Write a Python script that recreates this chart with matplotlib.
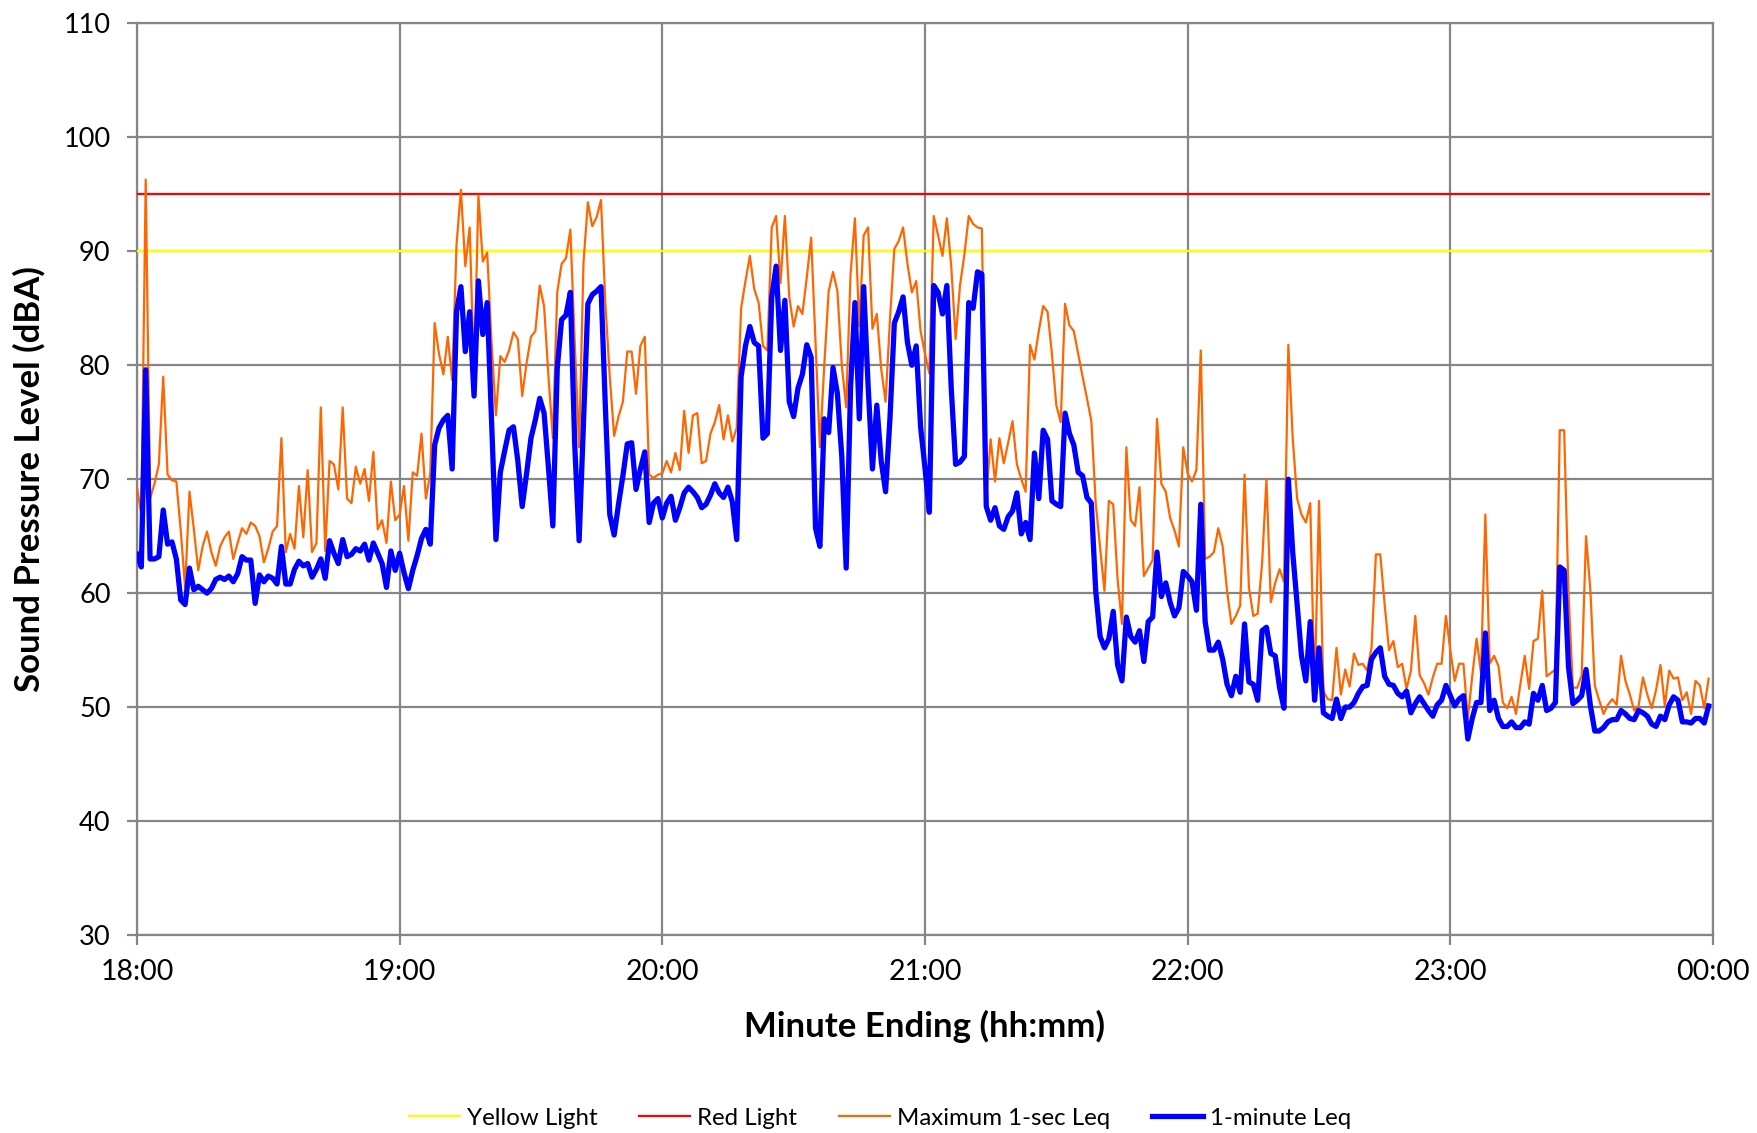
"""Sound pressure level, 18:00-00:00, minute by minute."""
import numpy as np
import matplotlib

matplotlib.use("Agg")
import matplotlib.pyplot as plt  # noqa: E402

plt.rcParams["font.family"] = ["Lato", "DejaVu Sans"]

# thresholds (dBA)
YELLOW_LIGHT = 90
RED_LIGHT = 95

HOUR_LABELS = ["18:00", "19:00", "20:00", "21:00", "22:00", "23:00", "00:00"]

# 1-minute Leq, one value per minute from 18:00
leq_1min = [
    63.4, 62.3, 79.6, 63.0, 63.0, 63.2, 67.3, 64.3, 64.5, 63.0,
    59.4, 59.0, 62.2, 60.3, 60.6, 60.3, 60.0, 60.4, 61.2, 61.4,
    61.2, 61.5, 61.0, 61.7, 63.2, 62.9, 62.9, 59.1, 61.6, 61.0,
    61.5, 61.3, 60.8, 64.1, 60.8, 60.8, 62.1, 62.8, 62.4, 62.6,
    61.4, 62.1, 63.0, 61.3, 64.6, 63.5, 62.6, 64.7, 63.2, 63.4,
    63.9, 63.7, 64.3, 62.9, 64.4, 63.5, 62.6, 60.5, 63.7, 62.0,
    63.5, 61.8, 60.4, 62.0, 63.3, 64.8, 65.6, 64.3, 73.0, 74.5,
    75.2, 75.6, 70.9, 84.7, 86.9, 81.2, 84.7, 77.3, 87.4, 82.7,
    85.5, 75.0, 64.7, 70.6, 72.5, 74.3, 74.6, 71.6, 67.6, 70.5,
    73.6, 75.2, 77.1, 75.8, 71.0, 65.9, 79.7, 84.0, 84.4, 86.4,
    73.0, 64.6, 75.0, 85.4, 86.2, 86.5, 86.9, 76.3, 66.9, 65.1,
    67.8, 70.3, 73.1, 73.2, 69.1, 70.9, 72.4, 66.2, 67.9, 68.3,
    66.6, 67.9, 68.5, 66.4, 67.5, 68.8, 69.3, 68.9, 68.4, 67.5,
    67.8, 68.6, 69.6, 68.8, 68.4, 69.3, 68.0, 64.7, 79.0, 81.7,
    83.4, 82.0, 81.7, 73.6, 74.0, 86.0, 88.7, 81.3, 85.7, 76.8,
    75.5, 78.0, 79.2, 81.8, 80.7, 65.7, 64.1, 75.3, 74.1, 79.8,
    77.5, 72.0, 62.2, 78.0, 85.5, 75.3, 86.9, 78.3, 70.9, 76.5,
    71.6, 68.9, 75.3, 83.7, 84.7, 86.0, 82.0, 80.0, 81.7, 74.6,
    71.0, 67.1, 87.0, 86.4, 84.5, 87.0, 78.0, 71.3, 71.5, 72.0,
    85.5, 85.0, 88.2, 88.0, 67.6, 66.4, 67.5, 65.9, 65.6, 66.7,
    67.2, 68.8, 65.2, 66.2, 64.7, 72.3, 68.3, 74.3, 73.5, 68.1,
    67.8, 67.6, 75.8, 74.0, 73.0, 70.6, 70.3, 68.4, 67.9, 60.2,
    56.2, 55.2, 56.0, 58.4, 53.7, 52.3, 57.9, 56.2, 55.7, 56.7,
    54.0, 57.5, 57.9, 63.6, 59.7, 60.9, 59.2, 58.0, 58.7, 61.9,
    61.5, 61.0, 58.5, 67.8, 57.5, 55.0, 55.0, 55.7, 54.2, 52.0,
    51.0, 52.7, 51.3, 57.3, 52.2, 52.0, 50.6, 56.7, 57.0, 54.7,
    54.5, 51.7, 49.9, 70.0, 63.6, 59.0, 54.5, 52.3, 57.5, 50.6,
    55.2, 49.5, 49.2, 49.0, 50.7, 49.0, 50.0, 50.0, 50.4, 51.2,
    51.8, 51.9, 54.2, 54.8, 55.2, 52.7, 52.0, 51.9, 51.2, 50.9,
    51.4, 49.5, 50.3, 50.9, 50.3, 49.7, 49.2, 50.2, 50.6, 51.9,
    51.0, 50.1, 50.7, 51.0, 47.2, 49.0, 50.4, 50.4, 56.5, 49.7,
    50.6, 49.0, 48.3, 48.3, 48.7, 48.2, 48.2, 48.7, 48.5, 51.2,
    50.6, 51.9, 49.7, 49.9, 50.4, 62.3, 62.0, 53.5, 50.3, 50.6,
    51.0, 53.3, 50.1, 47.9, 47.9, 48.2, 48.7, 48.9, 48.9, 49.7,
    49.4, 49.0, 48.9, 49.7, 49.5, 49.2, 48.5, 48.3, 49.2, 48.9,
    50.2, 50.9, 50.6, 48.7, 48.7, 48.6, 49.0, 49.0, 48.6, 50.1,
]

# maximum 1-sec Leq within each minute
leq_max_1sec = [
    69.3, 66.9, 96.3, 68.3, 69.6, 71.3, 79.0, 70.4, 69.9, 69.8,
    65.5, 60.5, 68.9, 65.6, 62.0, 64.1, 65.4, 63.6, 62.4, 64.1,
    64.9, 65.4, 63.0, 64.4, 65.7, 65.2, 66.2, 65.9, 65.0, 62.7,
    63.9, 65.4, 65.9, 73.6, 63.6, 65.2, 63.9, 69.4, 64.9, 70.8,
    63.6, 64.4, 76.3, 63.7, 71.6, 71.3, 69.1, 76.3, 68.3, 67.9,
    71.1, 69.6, 70.9, 68.1, 72.4, 65.6, 66.4, 64.4, 69.8, 66.4,
    66.9, 69.4, 64.6, 70.6, 70.3, 74.0, 68.3, 70.5, 83.7, 81.0,
    79.2, 82.5, 78.7, 90.6, 95.4, 88.7, 92.1, 79.0, 94.9, 89.1,
    89.9, 82.0, 75.6, 80.8, 80.3, 81.3, 82.9, 82.3, 77.3, 80.2,
    82.5, 83.0, 87.0, 85.2, 79.0, 73.6, 86.4, 88.9, 89.4, 91.9,
    82.0, 72.8, 89.0, 94.3, 92.2, 93.0, 94.5, 85.4, 79.0, 73.8,
    75.5, 76.8, 81.2, 81.2, 77.5, 81.7, 82.5, 70.4, 70.1, 70.4,
    70.5, 71.6, 70.6, 72.3, 70.8, 76.0, 72.3, 75.6, 75.8, 71.4,
    71.6, 74.0, 75.0, 76.5, 73.5, 75.6, 73.3, 74.5, 85.0, 87.4,
    89.6, 86.7, 85.5, 81.7, 81.3, 92.1, 93.1, 87.2, 93.1, 86.0,
    83.4, 85.2, 84.5, 87.7, 91.2, 82.0, 72.8, 80.0, 86.5, 88.2,
    86.5, 80.0, 76.3, 88.0, 92.9, 83.4, 91.4, 92.1, 83.2, 84.5,
    79.7, 76.8, 84.0, 90.2, 90.9, 92.1, 88.9, 86.4, 87.4, 83.0,
    81.0, 79.3, 93.1, 91.4, 89.6, 92.9, 88.7, 82.3, 87.0, 89.7,
    93.1, 92.4, 92.1, 92.0, 68.3, 73.5, 69.8, 73.6, 71.4, 73.2,
    75.1, 71.3, 70.0, 68.9, 81.8, 80.5, 83.0, 85.2, 84.7, 81.0,
    76.5, 75.0, 85.4, 83.5, 83.0, 81.0, 79.0, 77.1, 75.1, 67.9,
    64.0, 60.2, 68.1, 67.8, 61.2, 57.3, 72.8, 66.4, 65.9, 69.3,
    61.5, 62.2, 62.9, 75.3, 69.6, 68.9, 66.6, 65.5, 64.1, 72.8,
    70.5, 69.8, 70.8, 81.3, 63.0, 63.2, 63.6, 65.7, 64.1, 60.2,
    57.3, 58.0, 58.9, 70.4, 60.5, 58.0, 58.2, 62.6, 70.0, 59.2,
    60.9, 62.1, 61.0, 81.8, 73.6, 68.3, 66.9, 66.2, 67.9, 51.1,
    68.1, 51.4, 50.7, 50.6, 55.2, 51.1, 53.3, 51.8, 54.7, 53.7,
    53.8, 53.2, 55.2, 63.4, 63.4, 59.0, 55.0, 55.8, 53.5, 53.8,
    51.6, 53.2, 58.0, 52.8, 52.1, 51.1, 52.6, 53.8, 53.8, 58.0,
    55.0, 52.3, 53.8, 53.8, 49.0, 52.7, 56.0, 53.0, 66.9, 53.8,
    54.5, 53.6, 50.4, 49.9, 50.9, 49.4, 52.0, 54.5, 51.6, 55.8,
    56.0, 60.2, 52.7, 53.0, 53.3, 74.3, 74.3, 60.0, 51.7, 51.7,
    52.8, 65.0, 60.2, 51.9, 50.6, 49.4, 50.2, 50.7, 50.2, 54.5,
    52.3, 51.1, 49.7, 50.1, 52.6, 51.1, 49.9, 51.5, 53.7, 50.1,
    53.2, 52.5, 52.6, 50.6, 51.3, 49.4, 52.3, 51.9, 49.9, 52.5,
]

GRID = "#868686"

minutes = np.arange(len(leq_1min))

fig = plt.figure(figsize=(17.58, 11.33), dpi=100)
ax = fig.add_axes([0.0779, 0.1748, 0.8965, 0.8045])

ax.plot(minutes, np.full(len(minutes), YELLOW_LIGHT), color="#FFFF00", lw=1.6,
        label="Yellow Light", zorder=3)
ax.plot(minutes, np.full(len(minutes), RED_LIGHT), color="#FF0000", lw=1.6,
        label="Red Light", zorder=3)
ax.plot(minutes, leq_max_1sec, color="#FF6600", lw=1.6,
        label="Maximum 1-sec Leq", zorder=4)
ax.plot(minutes, leq_1min, color="#0000FF", lw=3.8,
        label="1-minute Leq", zorder=5)

ax.set_xlim(0, 360)
ax.set_ylim(30, 110)
ax.set_xticks(np.arange(0, 361, 60))
ax.set_xticklabels(HOUR_LABELS)
ax.set_yticks(np.arange(30, 111, 10))

ax.grid(True, color=GRID, lw=1.6, zorder=1)
ax.set_axisbelow(True)
for sp in ax.spines.values():
    sp.set_color(GRID)
    sp.set_linewidth(1.6)
ax.tick_params(axis="both", direction="out", length=7, width=1.6,
               color=GRID, labelsize=19.5, labelcolor="black")
ax.tick_params(axis="y", pad=12)
ax.tick_params(axis="x", labelsize=20.5, pad=10)

ax.set_xlabel("Minute Ending (hh:mm)", fontsize=25, fontweight="bold", labelpad=18)
ax.set_ylabel("Sound Pressure Level (dBA)", fontsize=25, fontweight="bold", labelpad=13)

# legend sits a little left of the plot centre, as in the original
ax.legend(loc="center", bbox_to_anchor=(0.4715, -0.201), ncol=4, frameon=False,
          fontsize=17.3, handlelength=2.1, columnspacing=1.75, handletextpad=0.3)

fig.savefig("out.png", dpi=100, facecolor="white")
plt.close(fig)
